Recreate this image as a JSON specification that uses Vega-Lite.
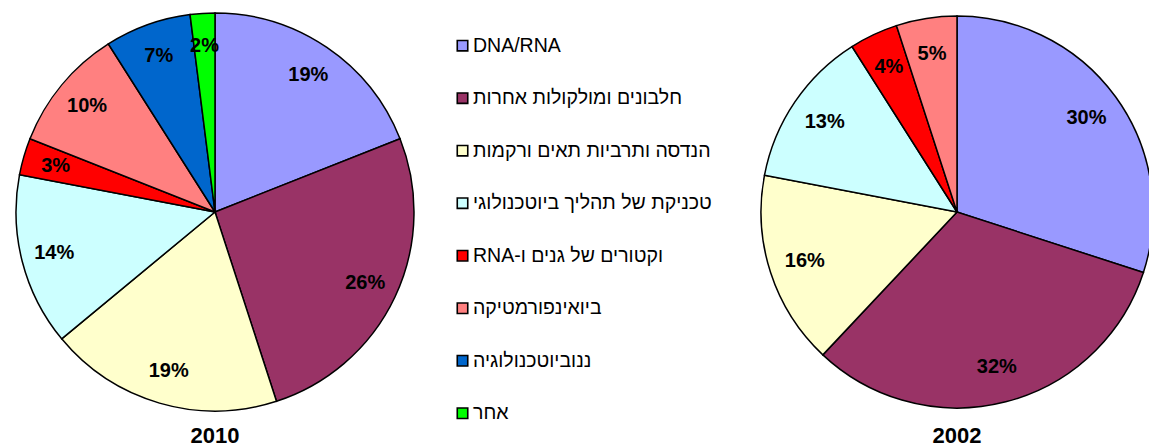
{
  "$schema": "https://vega.github.io/schema/vega-lite/v6.json",
  "padding": 0,
  "spacing": 0,
  "bounds": "flush",
  "background": "white",
  "config": {
    "view": {"stroke": null},
    "font": "Liberation Sans",
    "title": {"font": "Liberation Sans", "fontSize": 22, "fontWeight": "bold", "color": "black", "orient": "bottom", "anchor": "middle", "offset": 2}
  },
  "datasets": {
    "pies": [
      {"year": "2010", "cat": "DNA/RNA", "v": 0.19, "i": 0},
      {"year": "2010", "cat": "חלבונים ומולקולות אחרות", "v": 0.26, "i": 1},
      {"year": "2010", "cat": "הנדסה ותרביות תאים ורקמות", "v": 0.19, "i": 2},
      {"year": "2010", "cat": "טכניקת של תהליך ביוטכנולוגי", "v": 0.14, "i": 3},
      {"year": "2010", "cat": "\u202bוקטורים של גנים ו-RNA\u202c", "v": 0.03, "i": 4},
      {"year": "2010", "cat": "ביואינפורמטיקה", "v": 0.10, "i": 5},
      {"year": "2010", "cat": "ננוביוטכנולוגיה", "v": 0.07, "i": 6},
      {"year": "2010", "cat": "אחר", "v": 0.02, "i": 7},
      {"year": "2002", "cat": "DNA/RNA", "v": 0.30, "i": 0},
      {"year": "2002", "cat": "חלבונים ומולקולות אחרות", "v": 0.32, "i": 1},
      {"year": "2002", "cat": "הנדסה ותרביות תאים ורקמות", "v": 0.16, "i": 2},
      {"year": "2002", "cat": "טכניקת של תהליך ביוטכנולוגי", "v": 0.13, "i": 3},
      {"year": "2002", "cat": "\u202bוקטורים של גנים ו-RNA\u202c", "v": 0.04, "i": 4},
      {"year": "2002", "cat": "ביואינפורמטיקה", "v": 0.05, "i": 5}
    ],
    "cats": [
      {"cat": "DNA/RNA", "i": 0},
      {"cat": "חלבונים ומולקולות אחרות", "i": 1},
      {"cat": "הנדסה ותרביות תאים ורקמות", "i": 2},
      {"cat": "טכניקת של תהליך ביוטכנולוגי", "i": 3},
      {"cat": "\u202bוקטורים של גנים ו-RNA\u202c", "i": 4},
      {"cat": "ביואינפורמטיקה", "i": 5},
      {"cat": "ננוביוטכנולוגיה", "i": 6},
      {"cat": "אחר", "i": 7}
    ]
  },
  "hconcat": [
    {
      "width": 430,
      "height": 424,
      "data": {"name": "pies"},
      "transform": [{"filter": "datum.year == '2010'"}],
      "title": {"text": "2010"},
      "encoding": {
        "theta": {"field": "v", "type": "quantitative", "stack": true},
        "order": {"field": "i", "type": "quantitative"}
      },
      "layer": [
        {
          "mark": {"type": "arc", "outerRadius": 199, "stroke": "black", "strokeWidth": 1.5},
          "encoding": {
            "color": {
              "field": "cat", "type": "nominal", "legend": null,
              "scale": {
                "domain": ["DNA/RNA", "חלבונים ומולקולות אחרות", "הנדסה ותרביות תאים ורקמות", "טכניקת של תהליך ביוטכנולוגי", "\u202bוקטורים של גנים ו-RNA\u202c", "ביואינפורמטיקה", "ננוביוטכנולוגיה", "אחר"],
                "range": ["#9999FF", "#993366", "#FFFFCC", "#CCFFFF", "#FF0000", "#FF8080", "#0066CC", "#00FF00"]
              }
            }
          }
        },
        {
          "mark": {"type": "text", "radius": 166, "fontSize": 20, "fontWeight": "bold", "font": "Liberation Sans", "baseline": "middle", "align": "center"},
          "encoding": {
            "detail": {"field": "cat", "type": "nominal"},
            "color": {"value": "black"},
            "text": {"field": "v", "type": "quantitative", "format": ".0%"}
          }
        }
      ]
    },
    {
      "width": 327,
      "height": 424,
      "data": {"name": "cats"},
      "encoding": {
        "y": {"field": "i", "type": "quantitative", "axis": null, "scale": {"domain": [-0.87, 7.206], "reverse": true, "nice": false, "zero": false}},
        "x": {"datum": 1, "type": "quantitative", "axis": null, "scale": {"domain": [0, 10.06], "nice": false, "zero": false}}
      },
      "layer": [
        {
          "mark": {"type": "point", "shape": "square", "filled": true, "size": 110, "stroke": "black", "strokeWidth": 1.6, "opacity": 1},
          "encoding": {
            "fill": {
              "field": "cat", "type": "nominal", "legend": null,
              "scale": {
                "domain": ["DNA/RNA", "חלבונים ומולקולות אחרות", "הנדסה ותרביות תאים ורקמות", "טכניקת של תהליך ביוטכנולוגי", "\u202bוקטורים של גנים ו-RNA\u202c", "ביואינפורמטיקה", "ננוביוטכנולוגיה", "אחר"],
                "range": ["#9999FF", "#993366", "#FFFFCC", "#CCFFFF", "#FF0000", "#FF8080", "#0066CC", "#00FF00"]
              }
            }
          }
        },
        {
          "mark": {"type": "text", "align": "left", "baseline": "middle", "dx": 10.5, "fontSize": 19.5, "font": "Liberation Sans", "color": "black"},
          "encoding": {"text": {"field": "cat", "type": "nominal"}}
        }
      ]
    },
    {
      "width": 400,
      "height": 424,
      "data": {"name": "pies"},
      "transform": [{"filter": "datum.year == '2002'"}],
      "title": {"text": "2002"},
      "encoding": {
        "theta": {"field": "v", "type": "quantitative", "stack": true},
        "order": {"field": "i", "type": "quantitative"}
      },
      "layer": [
        {
          "mark": {"type": "arc", "outerRadius": 196, "stroke": "black", "strokeWidth": 1.5},
          "encoding": {
            "color": {
              "field": "cat", "type": "nominal", "legend": null,
              "scale": {
                "domain": ["DNA/RNA", "חלבונים ומולקולות אחרות", "הנדסה ותרביות תאים ורקמות", "טכניקת של תהליך ביוטכנולוגי", "\u202bוקטורים של גנים ו-RNA\u202c", "ביואינפורמטיקה", "ננוביוטכנולוגיה", "אחר"],
                "range": ["#9999FF", "#993366", "#FFFFCC", "#CCFFFF", "#FF0000", "#FF8080", "#0066CC", "#00FF00"]
              }
            }
          }
        },
        {
          "mark": {"type": "text", "radius": 160, "fontSize": 20, "fontWeight": "bold", "font": "Liberation Sans", "baseline": "middle", "align": "center"},
          "encoding": {
            "detail": {"field": "cat", "type": "nominal"},
            "color": {"value": "black"},
            "text": {"field": "v", "type": "quantitative", "format": ".0%"}
          }
        }
      ]
    }
  ]
}
